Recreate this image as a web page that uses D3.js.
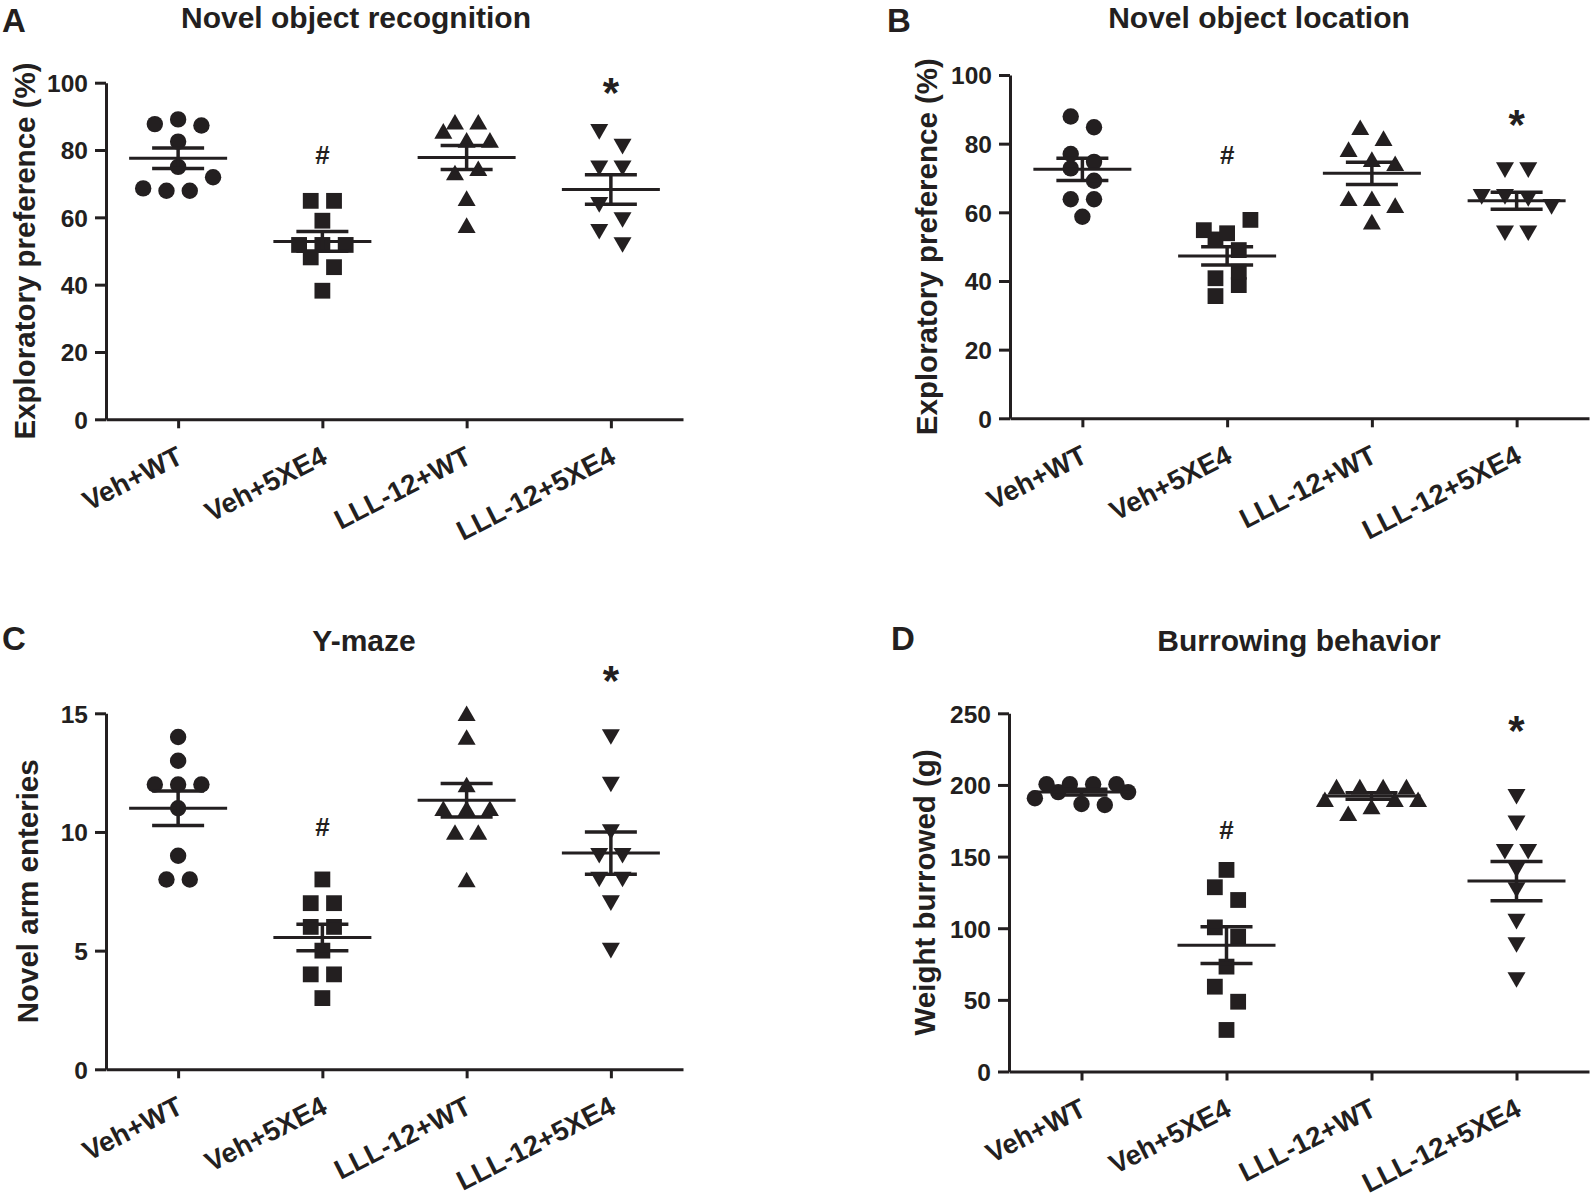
<!DOCTYPE html>
<html><head><meta charset="utf-8">
<script src="https://cdn.jsdelivr.net/npm/d3@7"></script>
<style>
body{margin:0;background:#fff;}
text{font-family:"Liberation Sans",Arial,sans-serif;font-weight:bold;fill:#231f20;}
</style></head><body>
<svg id="chart" width="1594" height="1199" xmlns="http://www.w3.org/2000/svg"></svg>
<script>
// ---------------- data ----------------
const categories = ["Veh+WT", "Veh+5XE4", "LLL-12+WT", "LLL-12+5XE4"];

// A: Novel object recognition (%)
const norVehWT     = [87.7, 89.1, 87.3, 82.5, 75.0, 68.6, 67.9, 67.9, 71.9];
const norVeh5XE4   = [64.9, 64.9, 59.0, 51.8, 51.8, 51.8, 48.1, 45.2, 38.2];
const norLLLWT     = [88.4, 88.4, 85.7, 83.0, 83.0, 73.3, 74.6, 65.7, 57.7];
const norLLL5XE4   = [85.4, 81.0, 74.6, 74.6, 63.7, 59.2, 55.7, 51.8];
// B: Novel object location (%)
const nolVehWT     = [87.9, 84.8, 77.0, 72.8, 74.7, 69.2, 63.8, 63.8, 58.7];
const nolVeh5XE4   = [54.8, 52.1, 53.9, 57.8, 49.0, 40.8, 42.7, 35.6, 38.8];
const nolLLLWT     = [84.8, 81.6, 78.4, 75.5, 74.3, 64.1, 64.1, 62.1, 57.3];
const nolLLL5XE4   = [72.3, 72.3, 64.5, 64.5, 63.9, 61.6, 53.9, 53.9];
// C: Y-maze novel arm entries
const ymVehWT      = [14, 13, 12, 12, 12, 11, 9, 8, 8];
const ymVeh5XE4    = [8, 7, 7, 6, 6, 5, 4, 4, 3];
const ymLLLWT      = [15, 14, 12, 11, 11, 11, 10, 10, 8];
const ymLLL5XE4    = [14, 12, 10, 9, 9, 8, 8, 7, 5];
// D: Burrowing, weight burrowed (g)
const burVehWT     = [200.5, 190.7, 195, 200.5, 200.5, 200.5, 186.7, 186.0, 195];
const burVeh5XE4   = [140.7, 128.6, 119.7, 100.6, 94.1, 73.2, 59.2, 48.7, 29.0];
const burLLLWT     = [198.8, 198.8, 198.8, 198.8, 190, 180.2, 185, 190, 190];
const burLLL5XE4   = [191.8, 173.3, 153.4, 153.4, 140.7, 126.7, 104.6, 88.3, 63.9];

// tick labels
const ticksPct   = [0, 20, 40, 60, 80, 100];
const ticksYmaze = [0, 5, 10, 15];
const ticksBur   = [0, 50, 100, 150, 200, 250];

// significance marks (value level at which the symbol is centred)
const hashMarks = [78.7, 76.7, 10.25, 169.2];   // '#' above Veh+5XE4
const starMarks = [100, 88.3, 16.8, 244.6];     // '*' above LLL-12+5XE4

const panelTitles = ["Novel object recognition", "Novel object location", "Y-maze", "Burrowing behavior"];
const panelLetters = ["A", "B", "C", "D"];
const yTitles = ["Exploratory preference (%)", "Exploratory preference (%)", "Novel arm enteries", "Weight burrowed (g)"];

// ---------------- drawing ----------------
const INK = "#231f20";
const STEP = 23.3;        // horizontal spacing of points in a row
const ROW_GAP = 16;       // px: points closer than this share a row
const FONT = "Liberation Sans, Arial, sans-serif";

const svg = d3.select("#chart");
svg.append("rect").attr("width", 1594).attr("height", 1199).attr("fill", "#fff");

const markerPath = {
  circle: (x, y) => { const r = 8.2; return `M${x - r},${y}a${r},${r} 0 1,0 ${2 * r},0a${r},${r} 0 1,0 ${-2 * r},0Z`; },
  square: (x, y) => { const s = 7.9; return `M${x - s},${y - s}h${2 * s}v${2 * s}h${-2 * s}Z`; },
  triangle: (x, y) => { const w = 9, h = 7.8; return `M${x},${y - h}L${x + w},${y + h}L${x - w},${y + h}Z`; },
  triangleDown: (x, y) => { const w = 9, h = 7.8; return `M${x - w},${y - h}L${x + w},${y - h}L${x},${y + h}Z`; }
};
const symbolsByGroup = ["circle", "square", "triangle", "triangleDown"];

function layoutGroup(values, y, cx) {
  const idx = values.map((v, i) => i).sort((a, b) => values[a] - values[b] || a - b);
  const rows = []; let cur = null;
  idx.forEach(i => {
    const py = y(values[i]);
    if (cur && Math.abs(cur.start - py) < ROW_GAP) cur.items.push(i);
    else { cur = { start: py, items: [i] }; rows.push(cur); }
  });
  const pts = [];
  rows.forEach(r => {
    r.items.sort((a, b) => a - b);
    const n = r.items.length;
    r.items.forEach((i, k) => pts.push({ x: cx + (k - (n - 1) / 2) * STEP, y: y(values[i]) }));
  });
  return pts;
}

function drawPanel(p, k) {
  const g = svg.append("g");
  const x = d3.scalePoint().domain(categories).range([p.x0, p.x1]).padding(0.5);
  const y = d3.scaleLinear().domain([0, p.max]).range([p.yBot, p.yTop]);

  // panel letter & title
  g.append("text").attr("x", p.lx).attr("y", p.ly).style("font-size", "33px").text(panelLetters[k]);
  g.append("text").attr("x", p.tx).attr("y", p.ty).attr("text-anchor", "middle")
    .style("font-size", "30px").text(panelTitles[k]);

  // y axis
  const ya = g.append("g").attr("transform", `translate(${p.x0},0)`)
    .call(d3.axisLeft(y).tickValues(p.ticks).tickSize(11).tickSizeOuter(0).tickFormat(d3.format("d")));
  ya.selectAll("path,line").attr("stroke", INK).attr("stroke-width", 3);
  ya.selectAll("text").attr("x", -18).attr("dy", null).attr("y", 8.8)
    .style("font-size", "24.5px").style("font-family", FONT).style("font-weight", "bold").attr("fill", INK);

  // x axis
  const xa = g.append("g").attr("transform", `translate(0,${p.yBot})`)
    .call(d3.axisBottom(x).tickSize(9).tickSizeOuter(0));
  xa.selectAll("path,line").attr("stroke", INK).attr("stroke-width", 3);
  xa.selectAll("text").remove();
  xa.selectAll(".tick").append("text")
    .attr("transform", "translate(6,43) rotate(-27)")
    .attr("text-anchor", "end").style("font-size", "27.5px")
    .style("font-family", FONT).style("font-weight", "bold")
    .attr("fill", INK).text(d => d);

  // y axis title
  g.append("text").attr("transform", `translate(${p.ylx},${(p.yTop + p.yBot) / 2}) rotate(-90)`)
    .attr("text-anchor", "middle").style("font-size", "29.5px").text(yTitles[k]);

  // points
  p.groups.forEach((vals, gi) => {
    const cx = x(categories[gi]);
    const pts = layoutGroup(vals, y, cx);
    g.append("g").selectAll("path").data(pts).join("path")
      .attr("d", d => markerPath[symbolsByGroup[gi]](d.x, d.y)).attr("fill", INK);
  });

  // mean +/- SEM
  p.groups.forEach((vals, gi) => {
    const cx = x(categories[gi]);
    const m = d3.mean(vals), sem = d3.deviation(vals) / Math.sqrt(vals.length);
    const eg = g.append("g").attr("stroke", INK);
    eg.append("line").attr("x1", cx - 49).attr("x2", cx + 49).attr("y1", y(m)).attr("y2", y(m)).attr("stroke-width", 3);
    eg.append("line").attr("x1", cx).attr("x2", cx).attr("y1", y(m + sem)).attr("y2", y(m - sem)).attr("stroke-width", 3.5);
    [m + sem, m - sem].forEach(v => eg.append("line").attr("x1", cx - 26).attr("x2", cx + 26)
      .attr("y1", y(v)).attr("y2", y(v)).attr("stroke-width", 3.5));
  });

  // significance marks
  g.append("text").attr("x", x(categories[1])).attr("y", y(hashMarks[k]) + 9.5)
    .attr("text-anchor", "middle").style("font-size", "26px").text("#");
  g.append("text").attr("x", x(categories[3])).attr("y", y(starMarks[k]) + 24)
    .attr("text-anchor", "middle").style("font-size", "42px").text("*");
}

const panels = [
  { lx: 2, ly: 31.7, tx: 356, ty: 27.5, ylx: 35, x0: 106, x1: 683, yTop: 82.7, yBot: 419.3, max: 100, ticks: ticksPct,
    groups: [norVehWT, norVeh5XE4, norLLLWT, norLLL5XE4] },
  { lx: 887, ly: 31.5, tx: 1259, ty: 27.5, ylx: 937, x0: 1010, x1: 1589, yTop: 75, yBot: 418.3, max: 100, ticks: ticksPct,
    groups: [nolVehWT, nolVeh5XE4, nolLLLWT, nolLLL5XE4] },
  { lx: 2, ly: 650, tx: 364, ty: 650.5, ylx: 38, x0: 106, x1: 683, yTop: 713.3, yBot: 1069.3, max: 15, ticks: ticksYmaze,
    groups: [ymVehWT, ymVeh5XE4, ymLLLWT, ymLLL5XE4] },
  { lx: 891, ly: 650, tx: 1299, ty: 650.5, ylx: 935, x0: 1009, x1: 1589, yTop: 713.3, yBot: 1071.5, max: 250, ticks: ticksBur,
    groups: [burVehWT, burVeh5XE4, burLLLWT, burLLL5XE4] }
];
panels.forEach(drawPanel);
</script>
</body></html>
